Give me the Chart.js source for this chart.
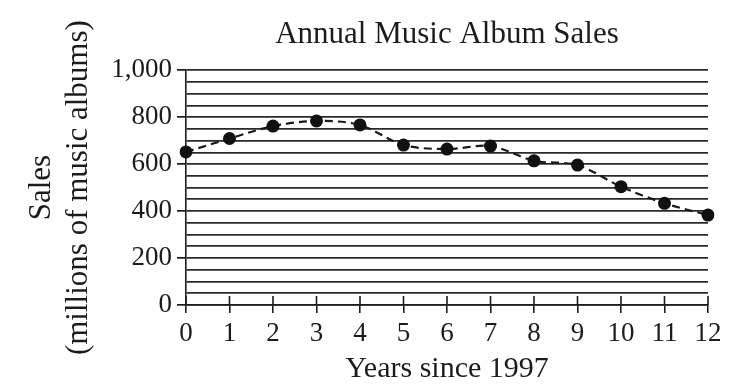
<!DOCTYPE html>
<html>
<head>
<meta charset="utf-8">
<script src="https://cdn.jsdelivr.net/npm/chart.js@4"></script>
<style>
  html, body { margin: 0; padding: 0; background: #fff; }
  #wrap { width: 748px; height: 390px; }
</style>
</head>
<body>
<div id="wrap"><canvas id="myChart" width="748" height="390"></canvas></div>
<script>
// Données
var years = ['0', '1', '2', '3', '4', '5', '6', '7', '8', '9', '10', '11', '12'];
var sales = [652, 709, 762, 784, 767, 681, 664, 677, 614, 596, 504, 433, 383];
var yMin = 0;
var yMax = 1000;
var yStep = 50;
var yLabelStep = 200;

var ink = '#1c1c1c';
var serif = '"Liberation Serif", "DejaVu Serif", serif';

// petits traits des graduations x à l'intérieur du graphique
var innerTicks = {
  id: 'innerTicks',
  afterDatasetsDraw: function(chart) {
    var ctx = chart.ctx;
    var x = chart.scales.x;
    var bottom = chart.chartArea.bottom;
    ctx.save();
    ctx.strokeStyle = ink;
    ctx.lineWidth = 1.6;
    for (var i = 0; i < years.length; i++) {
      var px = x.getPixelForTick(i);
      ctx.beginPath();
      ctx.moveTo(px, bottom - 9);
      ctx.lineTo(px, bottom);
      ctx.stroke();
    }
    ctx.restore();
  }
};

var ctx = document.getElementById('myChart').getContext('2d');
var myChart = new Chart(ctx, {
  type: 'line',
  data: {
    labels: years,
    datasets: [{
      label: 'Sales',
      data: sales,
      borderColor: '#1a1a1a',
      borderWidth: 2.2,
      borderDash: [8, 5],
      tension: 0.3,
      pointRadius: 6.5,
      pointBackgroundColor: '#111',
      pointBorderColor: '#111',
      pointBorderWidth: 0,
      fill: false
    }]
  },
  options: {
    responsive: false,
    animation: false,
    layout: { padding: { left: 0, right: 40, top: 0, bottom: 0 } },
    plugins: {
      legend: { display: false },
      tooltip: { enabled: false },
      title: {
        display: true,
        text: 'Annual Music Album Sales',
        fullSize: false,
        color: ink,
        font: { family: serif, size: 31, weight: 'normal', lineHeight: 1.2 },
        padding: { top: 16, bottom: 17 }
      }
    },
    scales: {
      x: {
        offset: false,
        afterFit: function(scale) { scale.height = 85; },
        grid: {
          drawOnChartArea: false,
          color: ink,
          tickColor: ink,
          lineWidth: 1.6,
          tickLength: 8
        },
        border: { display: true, color: ink, width: 1.6 },
        ticks: {
          autoSkip: false,
          maxRotation: 0,
          padding: 5,
          color: ink,
          font: { family: serif, size: 27 }
        },
        title: {
          display: true,
          text: 'Years since 1997',
          color: ink,
          font: { family: serif, size: 30, lineHeight: 1.2 },
          padding: { top: 0, bottom: 3 }
        }
      },
      y: {
        min: yMin,
        max: yMax,
        afterFit: function(scale) { scale.width = 186; },
        grid: {
          color: '#2a2a2a',
          lineWidth: 1.7,
          tickLength: 9,
          tickColor: function(c) {
            return (c.tick && c.tick.value % yLabelStep === 0) ? ink : 'rgba(0,0,0,0)';
          }
        },
        border: { display: true, color: ink, width: 1.6 },
        ticks: {
          stepSize: yStep,
          autoSkip: false,
          padding: 5,
          color: ink,
          font: { family: serif, size: 27 },
          callback: function(value) {
            return value % yLabelStep === 0 ? value.toLocaleString('en-US') : '';
          }
        },
        title: {
          display: true,
          text: ['Sales', '(millions of music albums)'],
          color: ink,
          font: { family: serif, size: 31, lineHeight: 1.17 },
          padding: { top: 24, bottom: 0 }
        }
      }
    }
  },
  plugins: [innerTicks]
});
</script>
</body>
</html>
